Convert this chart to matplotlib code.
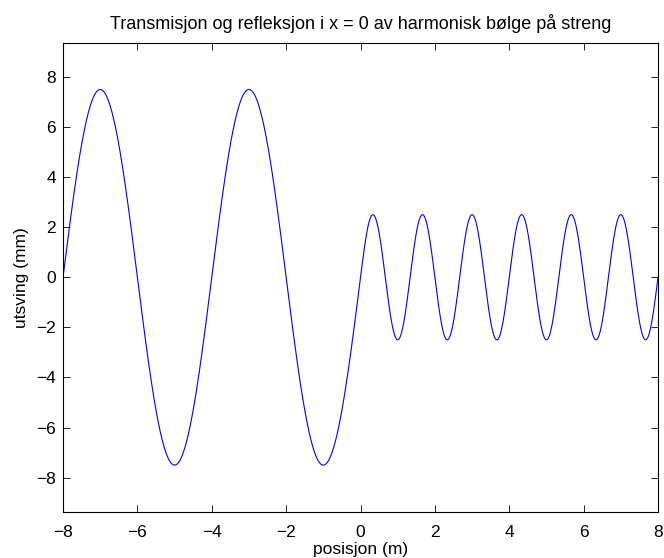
import numpy as np
import matplotlib.pyplot as plt

# verdier lest av figuren
amp_venstre = 7.5       # mm, innfallende + reflektert bølge (x < 0)
boelgelengde_venstre = 4.0   # m
amp_hoyre = 2.5         # mm, transmittert bølge (x > 0)
boelgelengde_hoyre = 4.0 / 3.0  # m
x_min, x_max = -8, 8
x_ticks = [-8, -6, -4, -2, 0, 2, 4, 6, 8]
y_ticks = [-8, -6, -4, -2, 0, 2, 4, 6, 8]

plt.rcParams['font.family'] = ['Liberation Sans', 'DejaVu Sans']
fs = 12.5


def streng(x):
    """utsving langs strengen, to deler som møtes i x = 0"""
    y = np.where(x < 0,
                 amp_venstre * np.sin(2 * np.pi * x / boelgelengde_venstre),
                 amp_hoyre * np.sin(2 * np.pi * x / boelgelengde_hoyre))
    return y


x = np.linspace(x_min, x_max, 2001)
y = streng(x)

fig = plt.figure(figsize=(6.64, 5.58), dpi=100)
ax = fig.add_axes([0.0949, 0.0824, 0.8961, 0.8414])
ax.plot(x, y, color='blue', linewidth=0.8)

ax.set_xlim(x_min, x_max)
ax.set_ylim(-9.375, 9.375)
ax.set_xticks(x_ticks)
ax.set_yticks(y_ticks)
ax.set_xticklabels([f"{t:d}".replace('-', '\u2212') for t in x_ticks])
ax.set_yticklabels([f"{t:d}".replace('-', '\u2212') for t in y_ticks])
ax.tick_params(direction='in', length=5, width=0.6, top=True, right=True,
               labelsize=fs, colors='black')
ax.tick_params(axis='x', pad=9)
ax.tick_params(axis='y', pad=5)
for s in ax.spines.values():
    s.set_linewidth(0.8)

ax.set_title("Transmisjon og refleksjon i x = 0 av harmonisk bølge på streng",
             fontsize=13, pad=9.5)
ax.set_xlabel("posisjon (m)", fontsize=fs, labelpad=1.5)
ax.set_ylabel("utsving (mm)", fontsize=fs, labelpad=5)

fig.savefig("out.png", dpi=100)
